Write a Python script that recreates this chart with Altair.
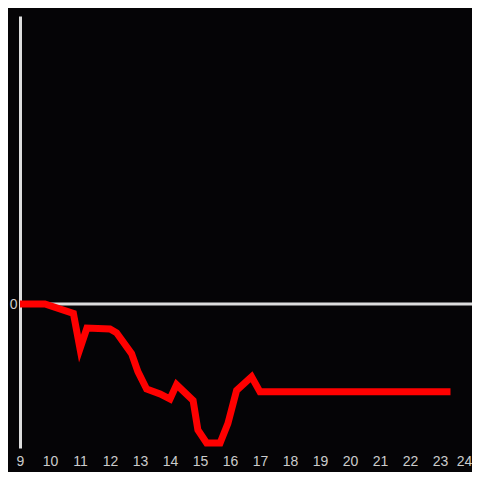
import altair as alt
import pandas as pd

hours = [9.0, 9.83, 10.78, 11.0, 11.23, 12.0, 12.22, 12.72, 12.93, 13.22, 13.67, 14.0,
         14.22, 14.77, 14.93, 15.22, 15.67, 15.93, 16.22, 16.72, 17.0, 23.35]
values = [0.0, 0.0, -0.065, -0.31, -0.167, -0.174, -0.2, -0.345, -0.47, -0.59, -0.625, -0.66,
          -0.56, -0.67, -0.875, -0.965, -0.965, -0.83, -0.6, -0.505, -0.61, -0.61]
x_ticks = list(range(9, 25))

df = pd.DataFrame({"t": hours, "v": values})

xs = alt.Scale(domain=[9, 9 + 452 / 30], nice=False, zero=False)
ys = alt.Scale(domain=[-1, 2], nice=False)

zero = alt.Chart(pd.DataFrame({"z": [0]})).mark_rule(color="#dddddd", strokeWidth=3).encode(
    y=alt.Y("z:Q", scale=ys),
    x=alt.value(0),
    x2=alt.value(470),
)

line = alt.Chart(df).mark_line(color="#ff0000", strokeWidth=7, strokeCap="butt").encode(
    x=alt.X("t:Q", scale=xs, axis=alt.Axis(values=x_ticks, title=None, domain=False, ticks=False,
                                           grid=False, labelColor="#cccccc", labelFontSize=14,
                                           labelFont="Liberation Sans", labelPadding=6,
                                           labelFlush=False, labelOverlap=False, format="d",
                                           labelOffset=alt.expr("datum.value == 24 ? -6 : 0"))),
    y=alt.Y("v:Q", scale=ys, axis=alt.Axis(values=[0], title=None, ticks=False, grid=False,
                                           domainColor="#dddddd", domainWidth=3,
                                           labelColor="#cccccc", labelFontSize=14,
                                           labelFont="Liberation Sans", labelPadding=3,
                                           labelFlush=False, format="d")),
)

chart = alt.layer(zero, line).properties(
    width=452, height=432,
    autosize=alt.AutoSizeParams(type="none"),
    padding={"left": 12, "top": 8, "right": 0, "bottom": 24},
    background="#050406",
).configure_view(stroke=None)

chart.save("out.html", embed_options={"renderer": "svg", "actions": False})
